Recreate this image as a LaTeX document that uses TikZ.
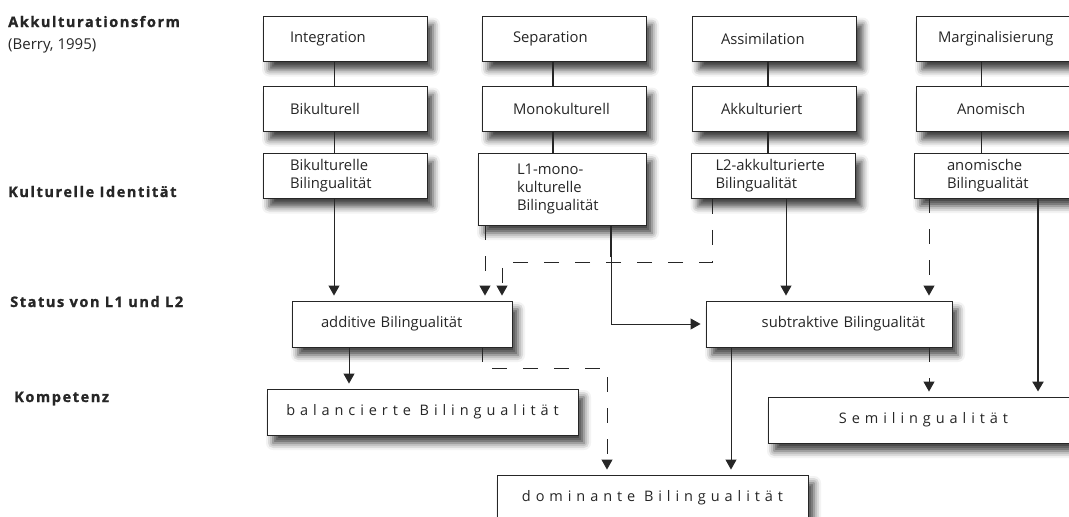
\documentclass[tikz,border=0pt]{standalone}
\usepackage{fontspec}
\setmainfont{Open Sans}
\newfontfamily\spacedfam[LetterSpace=34]{Open Sans}
\newfontfamily\headfam[LetterSpace=11,FakeBold=1.3]{Open Sans Bold}
\usetikzlibrary{arrows.meta}
\usetikzlibrary{shadows.blur}
\definecolor{inkgray}{HTML}{262626}
\hyphenpenalty=10000
\exhyphenpenalty=10000

\begin{document}
\begin{tikzpicture}[x=1pt, y=-1pt,
  frame/.style={draw=inkgray, line width=0.9pt, fill=white, text=inkgray, inner xsep=0pt, inner ysep=1pt,
    blur shadow={shadow xshift=6pt, shadow yshift=-8pt, shadow blur radius=7pt, shadow opacity=75}},
  box/.style={frame, minimum width=164pt, minimum height=45pt, text width=108pt, align=left,
    font=\fontsize{14.8}{18}\selectfont},
  widebox/.style={frame, minimum width=311pt, minimum height=46pt, align=center,
    font=\spacedfam\fontsize{14.5}{18}\selectfont},
  head/.style={anchor=base west, inner sep=0pt, text=inkgray, font=\headfam\fontsize{14.5}{16}\selectfont},
  link/.style={draw=inkgray, line width=1pt},
  boldlink/.style={draw=inkgray, line width=2.2pt},
  dashlink/.style={dash pattern=on 15pt off 16pt},
  arr/.style={link, -{Triangle[width=11pt,length=10pt]}, shorten >=5pt}]

\useasboundingbox (0,0) rectangle (1069,517);
\clip (0,0) rectangle (1069,517);

% row labels
\node[head] (lblform) at (8,27) {Akkulturationsform};
\node[anchor=base west, inner sep=0pt, text=inkgray, font=\fontsize{15}{16}\selectfont] (lblberry) at (8,49) {(Berry, 1995)};
\node[head] (lblident) at (8,197) {Kulturelle Identität};
\node[head] (lblstatus) at (10,307) {Status von L1 und L2};
\node[head] (lblkomp) at (14,402) {Kompetenz};

% Akkulturationsform
\node[box, text width=110pt] (integ) at (345,39) {Integration};
\node[box, text width=102pt] (separ) at (564,39) {Separation};
\node[box, text width=107pt] (assim) at (774.5,39) {Assimilation};
\node[box, text width=120pt] (margin) at (998,39) {Marginalisierung};

\node[box, text width=110pt] (bikult) at (345,109) {Bikulturell};
\node[box, text width=102pt] (monokult) at (564,109) {Monokulturell};
\node[box, text width=107pt] (akkult) at (774.5,109) {Akkulturiert};
\node[box, text width=82pt] (anom) at (998,109) {Anomisch};

% Kulturelle Identitaet
\node[box, text width=110pt] (bikultbil) at (345,176) {Bikulturelle\\Bilingualität};
\node[box, minimum width=168pt, minimum height=72pt, text width=90pt] (lmono) at (562,189) {L1-mono-\\kulturelle\\Bilingualität};
\node[box, text width=116pt] (lakk) at (773.5,176) {L2-akkulturierte\\Bilingualität};
\node[box, text width=98pt] (anombil) at (996,175.5) {anomische\\Bilingualität};

\draw[link] ([xshift=-11pt]integ.south) -- ([xshift=-11pt]bikult.north);
\draw[link] ([xshift=-11pt]bikult.south) -- ([xshift=-11pt]bikultbil.north);
\draw[boldlink] ([xshift=-11pt]separ.south) -- ([xshift=-11pt]monokult.north);
\draw[boldlink] ([xshift=-11pt]monokult.south) -- ([xshift=-9pt]lmono.north);
\draw[boldlink] ([xshift=-6.5pt]assim.south) -- ([xshift=-6.5pt]akkult.north);
\draw[boldlink] ([xshift=-6.5pt]akkult.south) -- ([xshift=-5.5pt]lakk.north);
\draw[link] ([xshift=-17pt]margin.south) -- ([xshift=-17pt]anom.north);
\draw[link] ([xshift=-17pt]anom.south) -- ([xshift=-15pt]anombil.north);

% Status von L1 und L2
\node[box, minimum width=220pt, minimum height=46pt, text width=162pt] (additiv) at (402,324) {additive Bilingualität};
\node[box, minimum width=246pt, minimum height=46pt, text width=192pt, align=right] (subtrakt) at (829,324) {subtraktive Bilingualität};

\draw[arr] ([xshift=-11pt]bikultbil.south) -- ([xshift=-11pt]bikultbil.south |- additiv.north);
\draw[arr, dashlink] ([xshift=-77pt]lmono.south) -- ([xshift=-77pt]lmono.south |- additiv.north);
\draw[arr, dashlink] ([xshift=-61.5pt]lakk.south) -- ++(0,64) -| ([xshift=100pt]additiv.north);
\draw[boldlink] ([xshift=49pt]lmono.south) -- ++(0,32);
\draw[arr] ([xshift=49pt]lmono.south) |- (subtrakt.west);
\draw[arr] ([xshift=12.5pt]lakk.south) -- ([xshift=12.5pt]lakk.south |- subtrakt.north);
\draw[arr, dashlink] ([xshift=-67pt]anombil.south) -- ([xshift=-67pt]anombil.south |- subtrakt.north);

% Kompetenz
\node[widebox] (balanc) at (422.5,412) {balancierte Bilingualität};
\node[widebox] (semiling) at (923.5,420) {Semilingualität};
\node[widebox] (domin) at (652.5,498) {dominante Bilingualität};

\draw[arr, boldlink] ([xshift=42pt]anombil.south) -- ([xshift=42pt]anombil.south |- semiling.north);
\draw[arr] ([xshift=-53pt]additiv.south) -- ([xshift=-53pt]additiv.south |- balanc.north);
\draw[arr, dashlink] ([xshift=80pt]additiv.south) -- ++(0,21) -| ([xshift=-45.5pt]domin.north);
\draw[arr] ([xshift=-98pt]subtrakt.south) -- ([xshift=-98pt]subtrakt.south |- domin.north);
\draw[arr, dashlink] ([xshift=100pt]subtrakt.south) -- ([xshift=100pt]subtrakt.south |- semiling.north);

\end{tikzpicture}
\end{document}
